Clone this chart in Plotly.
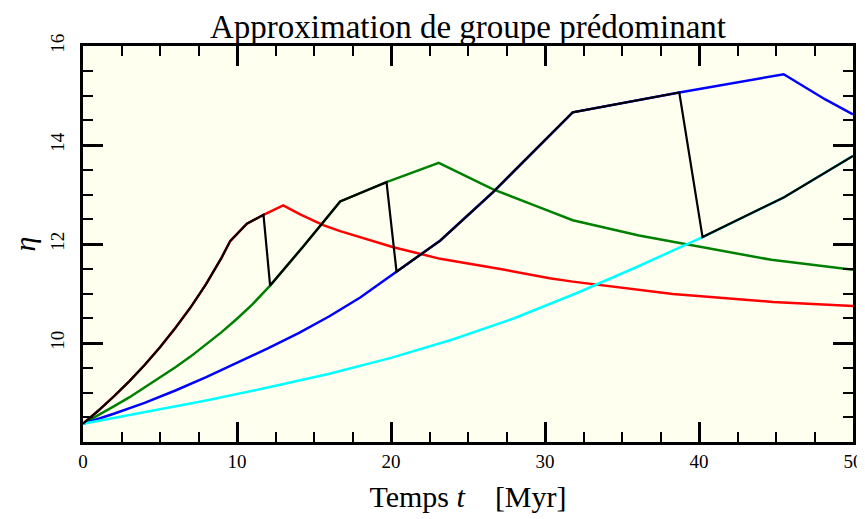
import plotly.graph_objects as go

# ---- data ----
red_t = [0, 1, 2, 3, 4, 5, 6, 7, 8, 9, 9.56, 10.64, 11.72, 13.0, 14.1, 15.6, 16.7,
         20.1, 23.2, 27.0, 30.3, 31.8, 38.3, 44.8, 50]
red_v = [8.37, 8.635, 8.92, 9.225, 9.555, 9.915, 10.305, 10.725, 11.195, 11.725, 12.06, 12.41,
         12.59, 12.78, 12.60, 12.38, 12.26, 11.94, 11.70, 11.50, 11.31, 11.24, 10.99, 10.83, 10.75]

green_t = [0, 1, 2, 3, 4, 5, 6, 7, 8, 9, 10, 11, 12.15, 14.3, 16.7, 18.4, 19.71, 23.1, 26.6,
           29.65, 31.8, 36.1, 39.2, 44.7, 50]
green_v = [8.37, 8.54, 8.72, 8.90, 9.10, 9.30, 9.51, 9.73, 9.97, 10.22, 10.49, 10.78, 11.16,
           11.95, 12.86, 13.08, 13.25, 13.64, 13.11, 12.74, 12.48, 12.17, 11.99, 11.68, 11.48]

blue_t = [0, 2, 4, 6, 8, 10, 12, 14, 16, 18, 20.36, 23.2, 26.6, 29.6, 31.8, 38.72, 45.5, 48.2, 50]
blue_v = [8.37, 8.57, 8.79, 9.04, 9.31, 9.60, 9.89, 10.20, 10.54, 10.92, 11.44, 12.07, 13.04,
          13.97, 14.66, 15.06, 15.43, 14.92, 14.62]

cyan_t = [0, 4, 8, 12, 16, 20, 24, 28, 32, 36, 40.23, 45.5, 50]
cyan_v = [8.37, 8.60, 8.84, 9.10, 9.38, 9.70, 10.07, 10.50, 11.00, 11.54, 12.14, 12.94, 13.78]

# predominant-group approximation: which group dominates in which time window
switch_windows = [(red_t, red_v, 0, 11.72),
                  (green_t, green_v, 12.15, 19.71),
                  (blue_t, blue_v, 20.36, 38.72),
                  (cyan_t, cyan_v, 40.23, 50)]

x_ticks = [0, 10, 20, 30, 40, 50]
y_ticks = [10, 12, 14, 16]

black_t, black_v = [], []
for ts, vs, lo, hi in switch_windows:
    for t, v in zip(ts, vs):
        if lo <= t <= hi:
            black_t.append(t)
            black_v.append(v)

FONT = "Liberation Serif"

fig = go.Figure()
for ts, vs, col in [(red_t, red_v, "#ff0000"), (green_t, green_v, "#008000"),
                    (blue_t, blue_v, "#0000ff"), (cyan_t, cyan_v, "#00ffff")]:
    fig.add_trace(go.Scatter(x=ts, y=vs, mode="lines", line=dict(color=col, width=2.5),
                             showlegend=False, hoverinfo="skip"))
fig.add_trace(go.Scatter(x=black_t, y=black_v, mode="lines", line=dict(color="black", width=2.2),
                         showlegend=False, hoverinfo="skip"))

axis_common = dict(
    showline=True, linecolor="black", linewidth=3, mirror="allticks",
    ticks="inside", ticklen=20, tickwidth=2.5, tickcolor="black",
    showgrid=False, zeroline=False, automargin=False,
    tickfont=dict(family=FONT, size=19, color="black"),
)

# page body has an 8px margin, so the figure is sized/placed to compensate
fig.update_layout(
    width=857, height=511,
    margin=dict(l=75, r=12, t=38, b=77, autoexpand=False),
    paper_bgcolor="white", plot_bgcolor="#fffff0",
    font=dict(family=FONT, color="black"),
    title=dict(text="Approximation de groupe prédominant", x=0.5, xref="paper",
               y=0.963, yref="container", yanchor="middle",
               font=dict(family=FONT, size=33, color="black")),
    xaxis=dict(range=[0, 50], tickvals=x_ticks, ticklabelstandoff=0,
               minor=dict(ticks="inside", ticklen=10, tickwidth=2, tickcolor="black",
                          tick0=0, dtick=2.5, showgrid=False),
               title=dict(text="Temps <i>t</i>\u2003[Myr]", standoff=16,
                          font=dict(family=FONT, size=30, color="black")),
               **axis_common),
    yaxis=dict(range=[8, 16], tickvals=y_ticks, tickangle=-90, ticklabelstandoff=8,
               minor=dict(ticks="inside", ticklen=10, tickwidth=2, tickcolor="black",
                          tick0=8, dtick=0.5, showgrid=False),
               title=dict(text="<i>η</i>", standoff=40,
                          font=dict(family=FONT, size=30, color="black")),
               **axis_common),
)

fig.write_html("out.html")
